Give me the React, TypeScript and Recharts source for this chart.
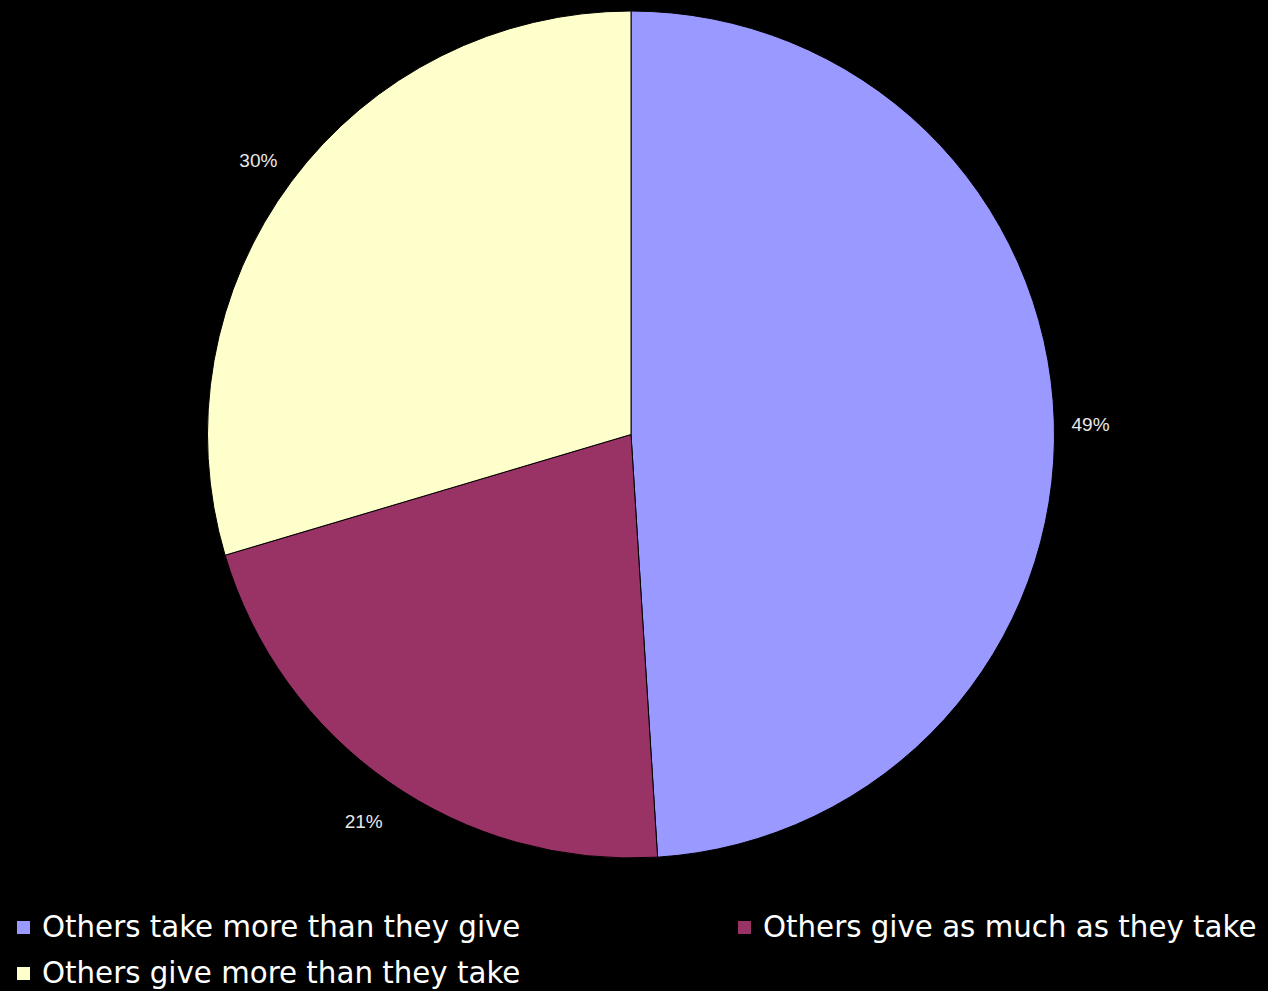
import React from "react";
import { PieChart, Pie, Cell, Legend } from "recharts";

const categories = [
  "Others take more than they give",
  "Others give as much as they take",
  "Others give more than they take",
];
const values = [49.0, 21.4, 29.6];
const colors = ["#9999FF", "#993366", "#FFFFCC"];

const data = categories.map((name, i) => ({ name, value: values[i] }));

const RAD = Math.PI / 180;

const renderLabel = (props: any) => {
  const { cx, cy, midAngle, outerRadius, percent } = props;
  const r = outerRadius + 36 + Math.abs(Math.sin(midAngle * RAD)) * 9;
  const x = cx + r * Math.cos(-midAngle * RAD);
  const y = cy + r * Math.sin(-midAngle * RAD) + 4;
  return (
    <text
      x={x}
      y={y}
      fill="#e8e8e8"
      fontSize={19}
      fontFamily="'Liberation Sans', Arial, sans-serif"
      textAnchor="middle"
      dominantBaseline="central"
    >
      {`${Math.round(percent * 100)}%`}
    </text>
  );
};

const LegendContent = () => {
  const pos = [
    { left: 17, top: 0 },
    { left: 738, top: 0 },
    { left: 17, top: 46 },
  ];
  return (
    <div style={{ position: "relative", width: 1268, height: 90 }}>
      {categories.map((c, i) => (
        <div
          key={c}
          style={{
            position: "absolute",
            left: pos[i].left,
            top: pos[i].top,
            display: "flex",
            alignItems: "center",
            whiteSpace: "nowrap",
          }}
        >
          <div
            style={{
              width: 13,
              height: 13,
              background: colors[i],
              marginRight: 12,
            }}
          />
          <span
            style={{
              color: "#ffffff",
              fontFamily: "'DejaVu Sans', sans-serif",
              fontSize: 29.3,
              lineHeight: "34px",
            }}
          >
            {c}
          </span>
        </div>
      ))}
    </div>
  );
};

export default function App() {
  return (
    <div
      style={{
        position: "absolute",
        left: 0,
        top: 0,
        width: 1268,
        height: 991,
        background: "#000000",
        overflow: "hidden",
      }}
    >
      <PieChart width={1268} height={991} margin={{ top: 0, right: 0, bottom: 0, left: 0 }}>
        <Pie
          data={data}
          dataKey="value"
          nameKey="name"
          cx={631}
          cy={434.5}
          outerRadius={423.5}
          startAngle={90}
          endAngle={-270}
          stroke="#000000"
          strokeWidth={1}
          label={renderLabel}
          labelLine={false}
          isAnimationActive={false}
        >
          {data.map((d, i) => (
            <Cell key={d.name} fill={colors[i]} />
          ))}
        </Pie>
        <Legend
          content={<LegendContent />}
          wrapperStyle={{ position: "absolute", left: 0, top: 910, width: 1268 }}
        />
      </PieChart>
    </div>
  );
}
